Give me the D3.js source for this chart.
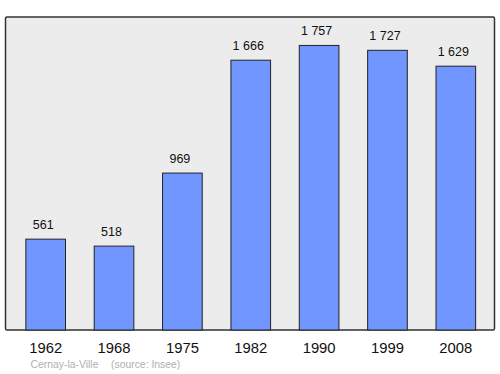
<!DOCTYPE html>
<html>
<head>
<meta charset="utf-8">
<script src="https://cdn.jsdelivr.net/npm/d3@7"></script>
<style>
  body { margin: 0; background: #fff; }
  svg { display: block; font-family: "Liberation Sans", Arial, sans-serif; }
</style>
</head>
<body>
<div id="chart"></div>
<script>
// Data
const years = ['1962', '1968', '1975', '1982', '1990', '1999', '2008'];
const population = [561, 518, 969, 1666, 1757, 1727, 1629];
const valueLabels = ['561', '518', '969', '1 666', '1 757', '1 727', '1 629'];
const commune = 'Cernay-la-Ville';
const source = '(source: Insee)';

function drawChart() {
    const width = 500, height = 374;
    const frame = { left: 5.5, top: 17, right: 494.5, bottom: 330 };

    const svg = d3.select('#chart')
        .append('svg')
        .attr('width', width)
        .attr('height', height);

    // Plot background
    svg.append('rect')
        .attr('x', frame.left)
        .attr('y', frame.top)
        .attr('width', frame.right - frame.left)
        .attr('height', frame.bottom - frame.top)
        .attr('rx', 1.5)
        .attr('fill', '#ececec')
        .attr('stroke', '#333')
        .attr('stroke-width', 1.5);

    // Scales
    const xScale = d3.scaleBand()
        .domain(years)
        .range([11.5, 490])
        .paddingInner(0.42)
        .paddingOuter(0.21);

    const yScale = d3.scaleLinear()
        .domain([0, d3.max(population) * 1.1])
        .range([frame.bottom, frame.top]);

    // Bars
    svg.selectAll('.bar')
        .data(population)
        .enter()
        .append('rect')
        .attr('class', 'bar')
        .attr('x', (d, i) => xScale(years[i]))
        .attr('y', d => yScale(d))
        .attr('width', xScale.bandwidth())
        .attr('height', d => frame.bottom - yScale(d))
        .attr('fill', '#7196ff')
        .attr('stroke', '#222')
        .attr('stroke-width', 1);

    // Value labels
    svg.selectAll('.value')
        .data(population)
        .enter()
        .append('text')
        .attr('class', 'value')
        .attr('x', (d, i) => xScale(years[i]) + xScale.bandwidth() / 2 - 2.5)
        .attr('y', d => yScale(d) - 10)
        .attr('text-anchor', 'middle')
        .style('font-size', '12.5px')
        .style('fill', '#111')
        .text((d, i) => valueLabels[i]);

    // Year axis (no line, labels only)
    const xAxis = d3.axisBottom(xScale).tickSize(0).tickPadding(0);
    const axisG = svg.append('g')
        .attr('transform', `translate(0, ${frame.bottom})`)
        .call(xAxis);
    axisG.select('.domain').remove();
    axisG.selectAll('text')
        .attr('dy', null)
        .attr('y', 22.5)
        .style('font-family', '"Liberation Sans", Arial, sans-serif')
        .style('font-size', '14.8px')
        .style('fill', '#111');

    // Footer
    svg.append('text')
        .attr('x', 30.5)
        .attr('y', 368)
        .style('font-size', '10.4px')
        .style('fill', '#b0b0b0')
        .text(commune);
    svg.append('text')
        .attr('x', 111)
        .attr('y', 368)
        .style('font-size', '10.4px')
        .style('fill', '#b0b0b0')
        .text(source);
}

document.addEventListener('DOMContentLoaded', drawChart);
</script>
</body>
</html>
